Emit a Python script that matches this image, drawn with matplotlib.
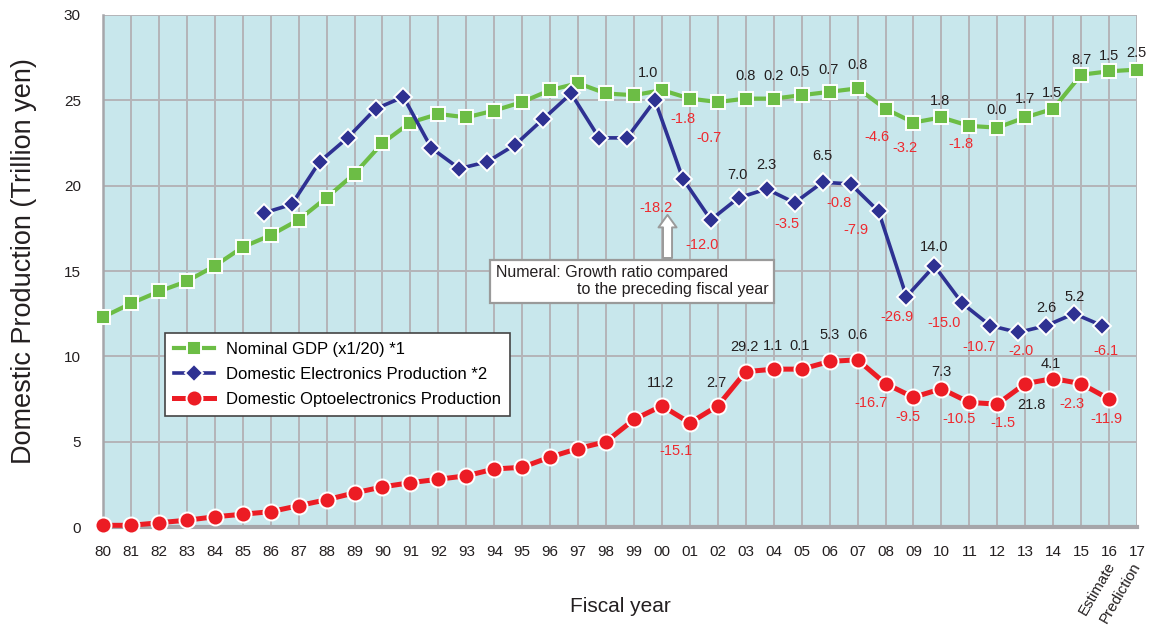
import matplotlib
matplotlib.use('Agg')
import matplotlib.pyplot as plt
import numpy as np

plt.rcParams['font.family'] = ['Liberation Sans', 'DejaVu Sans']

# Fiscal years 1980 - 2017
years = ['80', '81', '82', '83', '84', '85', '86', '87', '88', '89',
         '90', '91', '92', '93', '94', '95', '96', '97', '98', '99',
         '00', '01', '02', '03', '04', '05', '06', '07', '08', '09',
         '10', '11', '12', '13', '14', '15', '16', '17']

# Nominal GDP (x1/20), trillion yen
gdp = [12.3, 13.1, 13.8, 14.4, 15.3, 16.4, 17.1, 18.0, 19.3, 20.7,
       22.5, 23.7, 24.2, 24.0, 24.4, 24.9, 25.6, 26.0, 25.4, 25.3,
       25.6, 25.1, 24.9, 25.1, 25.1, 25.3, 25.5, 25.7, 24.5, 23.7,
       24.0, 23.5, 23.4, 24.0, 24.5, 26.5, 26.7, 26.8]

# Domestic electronics production, FY86 - FY16
elec = [18.4, 18.9, 21.4, 22.8, 24.5, 25.2, 22.2, 21.0, 21.4, 22.4,
        23.9, 25.4, 22.8, 22.8, 25.0, 20.4, 18.0, 19.3, 19.8, 19.0,
        20.2, 20.1, 18.5, 13.5, 15.3, 13.1, 11.8, 11.4, 11.8, 12.5,
        11.8]

# Domestic optoelectronics production, FY80 - FY16
opto = [0.1, 0.1, 0.25, 0.4, 0.6, 0.75, 0.9, 1.25, 1.6, 2.0,
        2.35, 2.6, 2.8, 3.0, 3.4, 3.5, 4.1, 4.6, 5.0, 6.3,
        7.1, 6.1, 7.1, 9.1, 9.25, 9.25, 9.7, 9.8, 8.4, 7.6,
        8.1, 7.3, 7.2, 8.4, 8.7, 8.4, 7.5]

# Growth ratio vs. preceding year (%)
gdp_growth = [1.0, -1.8, -0.7, 0.8, 0.2, 0.5, 0.7, 0.8, -4.6, -3.2,
              1.8, -1.8, 0.0, 1.7, 1.5, 8.7, 1.5, 2.5]          # FY00 - FY17
elec_growth = [-18.2, -12.0, 7.0, 2.3, -3.5, 6.5, -0.8, -7.9, -26.9,
               14.0, -15.0, -10.7, -2.0, 2.6, 5.2, -6.1]         # FY01 - FY16
opto_growth = [11.2, -15.1, 2.7, 29.2, 1.1, 0.1, 5.3, 0.6, -16.7, -9.5,
               7.3, -10.5, -1.5, 21.8, 4.1, -2.3, -11.9]         # FY00 - FY16

# label offsets in pixels (dx, dy), dy positive = upward
gdp_offs = [(-14, 17), (-7, -20), (-9, -36), (0, 23), (0, 23), (-2, 23),
            (-1, 22), (0, 23), (-9, -28), (-9, -25), (-1, 16), (-8, -18),
            (-1, 18), (0, 18), (-1, 16), (0, 15), (0, 15), (-1, 17)]
elec_offs = [(-27, -29), (-9, -25), (-1, 23), (0, 24), (-8, -21), (0, 26),
             (-12, -19), (-23, -19), (-9, -20), (0, 19), (-18, -20),
             (-11, -21), (3, -19), (0, 18), (0, 17), (4, -25)]
opto_offs = [(-1, 23), (-14, -28), (-1, 23), (-1, 25), (-1, 23), (-2, 23),
             (0, 26), (0, 25), (-15, -19), (-6, -20), (0, 17), (-10, -17),
             (6, -19), (6, -21), (-2, 15), (-9, -20), (-3, -20)]

GREEN = '#6cbd45'
BLUE = '#2e3192'
RED = '#ec1c24'
NEG = '#ee2a2f'
POS = '#231f20'

x = np.arange(len(years))
x_elec = x[6:37] - 0.25
x_opto = x[:37]

fig = plt.figure(figsize=(11.5, 6.32), dpi=100)
ax = fig.add_axes([0.0896, 0.1661, 0.8991, 0.8102])
ax.set_facecolor('#c8e7ec')

ax.plot(x, gdp, color=GREEN, lw=3, marker='s', ms=10.5, mfc=GREEN, mec='white',
        mew=1.4, label='Nominal GDP (x1/20) *1', clip_on=False, zorder=3)
ax.plot(x_elec, elec, color=BLUE, lw=2.6, marker='D', ms=8.8, mfc=BLUE,
        mec='white', mew=1.4, label='Domestic Electronics Production *2',
        clip_on=False, zorder=4)
ax.plot(x_opto, opto, color=RED, lw=3.6, marker='o', ms=11.5, mfc=RED,
        mec='white', mew=1.4, label='Domestic Optoelectronics Production',
        clip_on=False, zorder=5)


def put_labels(xs, ys, vals, offs):
    for xi, yi, v, (dx, dy) in zip(xs, ys, vals, offs):
        ax.annotate('%.1f' % v, (xi, yi), xytext=(dx, dy),
                    textcoords='offset pixels', ha='center', va='center',
                    fontsize=10.5, color=NEG if v < 0 else POS, zorder=6)


put_labels(x[20:], gdp[20:], gdp_growth, gdp_offs)
put_labels(x_elec[15:], elec[15:], elec_growth, elec_offs)
put_labels(x_opto[20:], opto[20:], opto_growth, opto_offs)

ax.set_xlim(0, 37)
ax.set_ylim(0, 30)
ax.set_xticks(x)
ax.set_xticklabels(years)
ax.set_yticks(np.arange(0, 31, 5))
ax.tick_params(axis='both', length=0, labelsize=11, colors='#231f20')
ax.tick_params(axis='y', pad=16)
ax.tick_params(axis='x', pad=13)
ax.grid(True, color='#b4b4b8', lw=1.4)
ax.set_axisbelow(True)

for s in ['top', 'right']:
    ax.spines[s].set_visible(False)
ax.spines['left'].set_color('#a6a6aa')
ax.spines['left'].set_linewidth(1.8)
ax.spines['bottom'].set_color('#a6a6aa')
ax.spines['bottom'].set_linewidth(3)

ax.set_ylabel('Domestic Production (Trillion yen)', fontsize=19.5,
              color='#231f20')
ax.yaxis.set_label_coords(-0.064, 0.52)
ax.set_xlabel('Fiscal year', fontsize=15, color='#231f20')
ax.xaxis.set_label_coords(0.5, -0.137)

# estimate / prediction notes under the last two years
tr = ax.get_xaxis_transform()
ax.text(36.1, -0.07, 'Estimate', transform=tr, rotation=60, ha='right',
        va='center', rotation_mode='anchor', fontsize=11, color='#231f20')
ax.text(37.0, -0.07, 'Prediction', transform=tr, rotation=60, ha='right',
        va='center', rotation_mode='anchor', fontsize=11, color='#231f20')

leg = ax.legend(loc='upper left', bbox_to_anchor=(0.06, 0.379),
                borderaxespad=0, fancybox=False, framealpha=1,
                edgecolor='#444444', fontsize=12, handlelength=2.4,
                labelspacing=0.6, borderpad=0.55, handletextpad=0.7)
leg.get_frame().set_linewidth(1.2)
leg.set_zorder(7)

# note box with arrow
ax.annotate('', xy=(20.2, 18.45), xytext=(20.2, 15.6),
            arrowprops=dict(arrowstyle='simple,head_width=1.3,head_length=0.9,tail_width=0.65',
                            fc='white', ec='#9a9a9a', lw=1.4), zorder=6)
ax.text(14.05, 14.4, 'Numeral: Growth ratio compared\n'
        '                  to the preceding fiscal year',
        ha='left', va='center', fontsize=11.5, color='#231f20', linespacing=1.15,
        bbox=dict(boxstyle='square,pad=0.35', fc='white', ec='#9a9a9a', lw=1.6),
        zorder=7)

fig.savefig('out.png', dpi=100)
